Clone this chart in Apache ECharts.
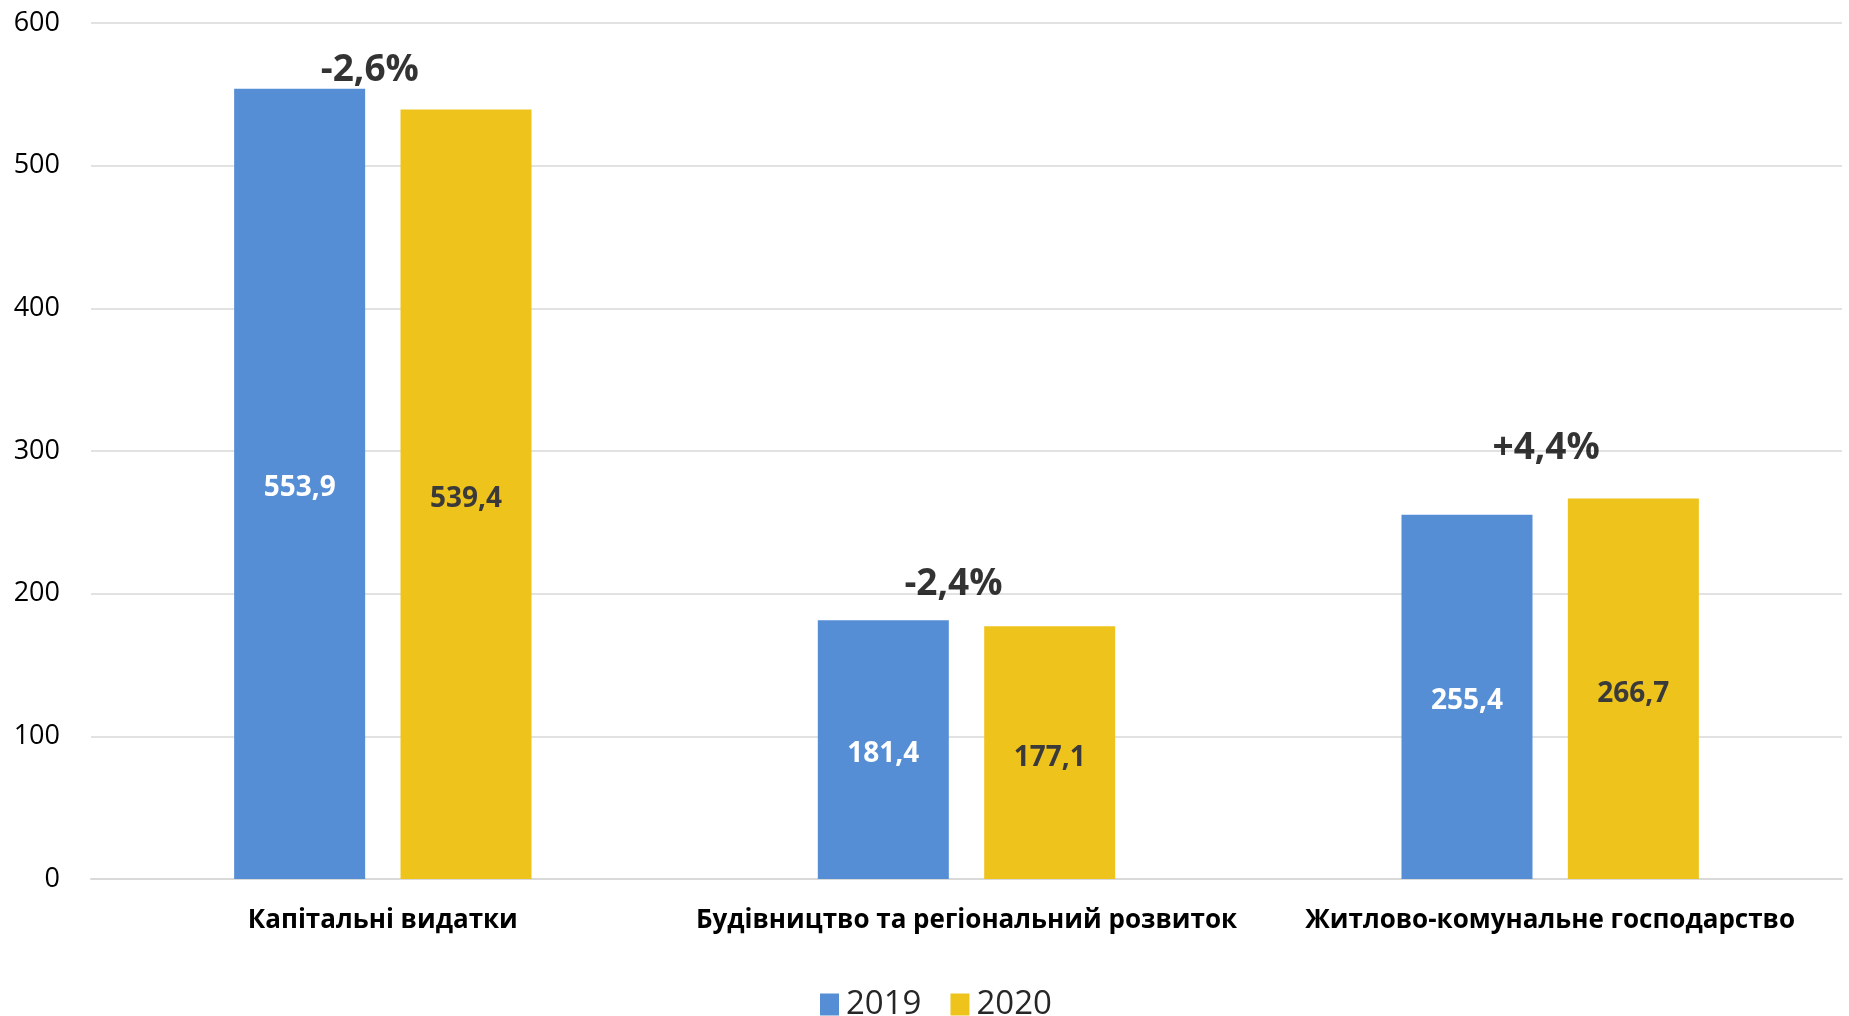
<!DOCTYPE html>
<html>
<head>
<meta charset="utf-8">
<script src="https://cdn.jsdelivr.net/npm/echarts@6/dist/echarts.min.js"></script>
<style>
html,body{margin:0;padding:0;background:#fff;}
#chart{width:1849px;height:1016px;}
</style>
</head>
<body>
<div id="chart"></div>
<script>
const categories = ['Капітальні видатки', 'Будівництво та регіональний розвиток', 'Житлово-комунальне господарство'];
const values2019 = [553.9, 181.4, 255.4];
const values2020 = [539.4, 177.1, 266.7];
const changeLabels = ['-2,6%', '-2,4%', '+4,4%'];
const seriesNames = ['2019', '2020'];
const yTicks = [0, 100, 200, 300, 400, 500, 600];

const FONT = '"Open Sans", "Noto Sans", sans-serif';
const fmt = v => v.toFixed(1).replace('.', ',');
const annotOffsets = [[-13, -18], [-13, -36], [-4, -50]];

const chart = echarts.init(document.getElementById('chart'));
chart.setOption({
  animation: false,
  backgroundColor: '#ffffff',
  textStyle: { fontFamily: FONT },
  grid: { left: 91, right: 7, top: 23, bottom: 137, containLabel: false },
  legend: {
    data: seriesNames,
    left: 815,
    top: 983,
    itemWidth: 19,
    itemHeight: 22,
    itemGap: 29,
    icon: 'rect',
    textStyle: { fontFamily: FONT, fontSize: 33, color: '#262626', padding: [0, 0, 0, 2] }
  },
  xAxis: {
    type: 'category',
    data: categories,
    axisTick: { show: false },
    axisLine: { lineStyle: { color: '#d9d9d9', width: 2 } },
    axisLabel: { fontFamily: FONT, fontWeight: 'bold', fontSize: 26, color: '#000', margin: 29, interval: 0 }
  },
  yAxis: {
    type: 'value',
    min: yTicks[0],
    max: yTicks[yTicks.length - 1],
    interval: 100,
    axisLine: { show: false },
    axisTick: { show: false },
    splitLine: { lineStyle: { color: '#d9d9d9', width: 1.5 } },
    axisLabel: { fontFamily: FONT, fontSize: 27, color: '#000', margin: 31 }
  },
  series: [
    {
      name: seriesNames[0],
      type: 'bar',
      data: values2019,
      barWidth: 131,
      barGap: '27%',
      itemStyle: { color: '#558ED5' },
      label: { show: true, position: 'inside', offset: [0, 4], formatter: p => fmt(p.value), fontFamily: FONT, fontWeight: 'bold', fontSize: 28, color: '#ffffff' }
    },
    {
      name: seriesNames[1],
      type: 'bar',
      data: values2020,
      barWidth: 131,
      barGap: '27%',
      itemStyle: { color: '#EEC31C' },
      label: { show: true, position: 'inside', offset: [0, 5], formatter: p => fmt(p.value), fontFamily: FONT, fontWeight: 'bold', fontSize: 28, color: '#3a3a3a' }
    },
    {
      name: 'change',
      type: 'scatter',
      symbolSize: 0,
      silent: true,
      z: 10,
      data: categories.map((c, i) => ({
        value: [i, Math.max(values2019[i], values2020[i])],
        label: { offset: annotOffsets[i] }
      })),
      label: {
        show: true,
        position: 'inside',
        formatter: p => changeLabels[p.dataIndex],
        fontFamily: FONT, fontWeight: 'bold', fontSize: 37, color: '#000000'
      }
    }
  ]
});
</script>
</body>
</html>
